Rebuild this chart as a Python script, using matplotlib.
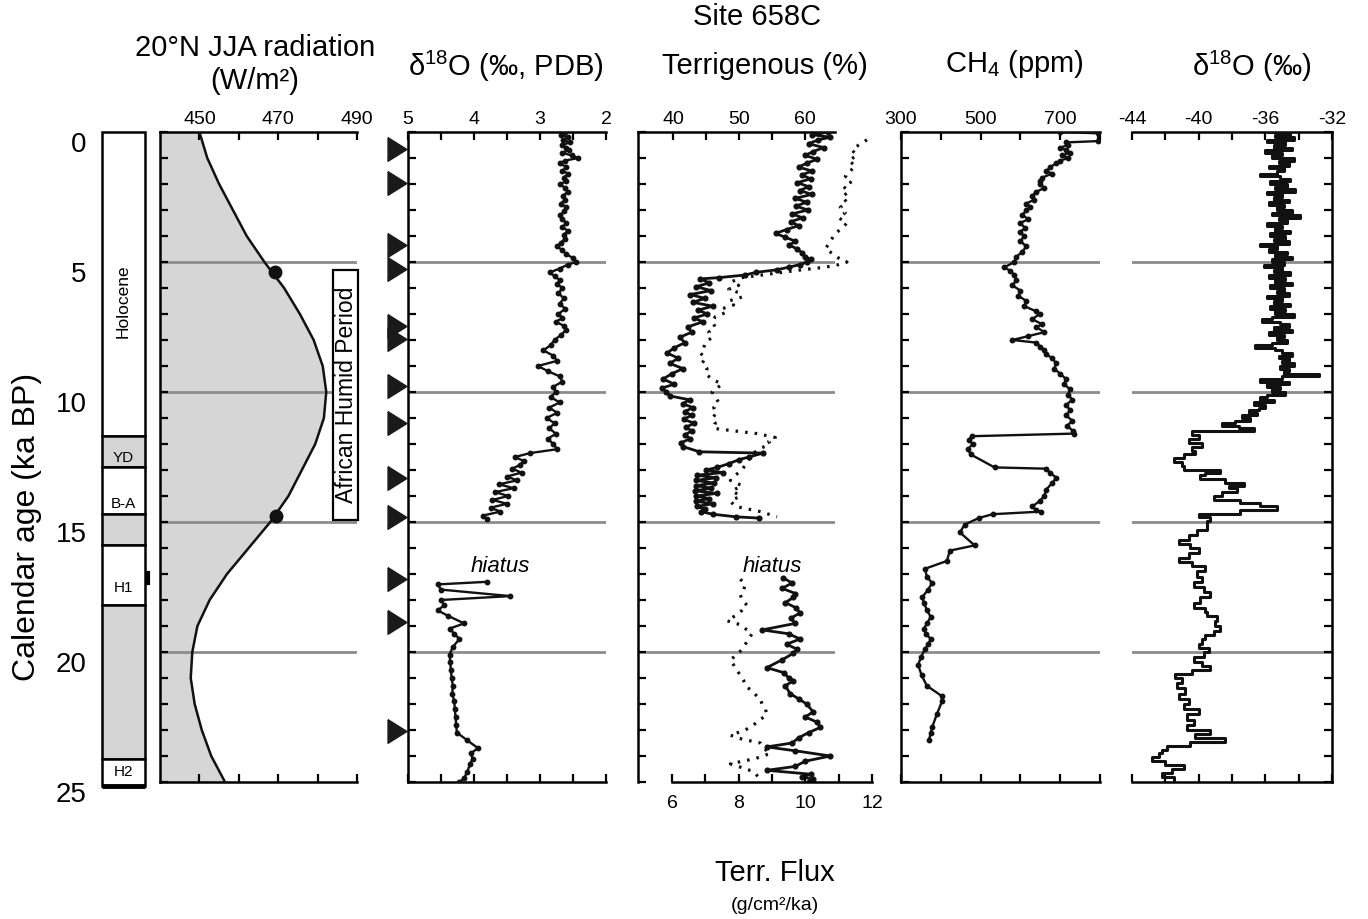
import numpy as np
import matplotlib
matplotlib.use("Agg")
import matplotlib.pyplot as plt
from matplotlib.patches import Rectangle

plt.rcParams['font.family'] = ['Liberation Sans', 'DejaVu Sans']
plt.rcParams['mathtext.default'] = 'regular'
plt.rcParams['axes.unicode_minus'] = False

# ---------------- data (age in ka BP, value) ----------------
age_lines = [5, 10, 15, 20]

# stratigraphic column
strat_top = [0.0, 11.7, 12.9, 14.7, 15.9, 18.2, 24.1]
strat_bot = [11.7, 12.9, 14.7, 15.9, 18.2, 24.1, 25.15]
strat_fill = ['white', '#d4d4d4', 'white', '#d4d4d4', 'white', '#d4d4d4', 'white']
strat_names = ['Holocene', 'YD', 'B-A', 'H1', 'H2']
strat_name_age = [6.5, 12.55, 14.3, 17.55, 24.6]

# 20N JJA insolation
rad_age = [0, 1, 2, 3, 4, 5, 6, 7, 8, 9, 10, 11, 12, 13, 14, 15, 16, 17, 18, 19,
           20, 21, 22, 23, 24, 25]
rad_val = [450, 452, 455, 458.5, 462, 466.5, 471.5, 475.5, 479, 481.3, 482.2, 481.6,
           479.4, 476, 472.6, 468, 462.5, 457, 452.6, 449.5, 448.2, 447.8, 448.8,
           450.6, 453, 456.5]
rad_dot_age = [5.4, 14.75]
rad_dot_val = [469.3, 469.5]

# AMS 14C dates
tri_ages = [0.65, 1.95, 4.35, 5.25, 7.45, 7.95, 9.75, 11.2, 13.3, 14.8, 17.2, 18.85, 23.05]

# planktonic d18O, above and below the hiatus
plank_upper = [
    (0.0, 2.62), (0.1, 2.68), (0.2, 2.58), (0.3, 2.65), (0.4, 2.55), (0.5, 2.66),
    (0.6, 2.60), (0.7, 2.56), (0.8, 2.67), (0.9, 2.52), (1.0, 2.42), (1.1, 2.62),
    (1.2, 2.70), (1.35, 2.60), (1.5, 2.66), (1.6, 2.57), (1.75, 2.64), (1.9, 2.60),
    (2.0, 2.70), (2.15, 2.62), (2.3, 2.58), (2.45, 2.65), (2.6, 2.62), (2.75, 2.68),
    (2.9, 2.60), (3.05, 2.63), (3.2, 2.70), (3.35, 2.66), (3.5, 2.60), (3.65, 2.66),
    (3.8, 2.58), (3.95, 2.64), (4.1, 2.62), (4.25, 2.68), (4.4, 2.74), (4.55, 2.66),
    (4.7, 2.60), (4.85, 2.50), (5.0, 2.45), (5.1, 2.58), (5.25, 2.70), (5.4, 2.85),
    (5.55, 2.78), (5.7, 2.70), (5.85, 2.74), (6.0, 2.66), (6.2, 2.72), (6.4, 2.64),
    (6.6, 2.70), (6.8, 2.62), (7.0, 2.72), (7.15, 2.66), (7.3, 2.76), (7.45, 2.64),
    (7.6, 2.60), (7.8, 2.68), (8.0, 2.78), (8.2, 2.84), (8.4, 2.95), (8.6, 2.80),
    (8.8, 2.74), (9.0, 3.03), (9.2, 2.88), (9.4, 2.70), (9.6, 2.66), (9.8, 2.80),
    (10.0, 2.76), (10.2, 2.84), (10.4, 2.70), (10.6, 2.86), (10.8, 2.74), (11.0, 2.90),
    (11.2, 2.78), (11.4, 2.86), (11.6, 2.76), (11.8, 2.88), (12.0, 2.80), (12.2, 2.74),
    (12.35, 3.15), (12.5, 3.38), (12.65, 3.25), (12.8, 3.30), (12.95, 3.42), (13.1, 3.28),
    (13.25, 3.50), (13.4, 3.35), (13.55, 3.62), (13.7, 3.40), (13.85, 3.68), (14.0, 3.48),
    (14.15, 3.72), (14.3, 3.50), (14.45, 3.75), (14.6, 3.60), (14.75, 3.86), (14.9, 3.80)]
plank_lower = [
    (17.3, 3.80), (17.4, 4.55), (17.6, 4.50), (17.85, 3.45), (18.0, 4.50), (18.2, 4.45),
    (18.4, 4.55), (18.6, 4.40), (18.9, 4.15), (19.1, 4.37), (19.3, 4.30), (19.5, 4.22),
    (19.8, 4.32), (20.1, 4.37), (20.4, 4.36), (20.7, 4.35), (21.0, 4.34), (21.3, 4.32),
    (21.6, 4.33), (21.9, 4.30), (22.2, 4.29), (22.5, 4.28), (22.8, 4.27), (23.1, 4.26),
    (23.4, 4.10), (23.7, 3.94), (23.9, 4.05), (24.1, 4.02), (24.3, 4.06), (24.6, 4.10),
    (24.85, 4.15), (25.0, 4.22)]

# terrigenous percentage
terr_upper = [
    (0.0, 63.5), (0.1, 61.0), (0.2, 63.8), (0.3, 62.0), (0.45, 60.5), (0.6, 62.8),
    (0.75, 61.2), (0.9, 60.0), (1.05, 61.8), (1.2, 60.2), (1.35, 59.0), (1.5, 61.0),
    (1.65, 59.5), (1.8, 60.8), (1.95, 58.8), (2.1, 60.5), (2.25, 59.2), (2.4, 61.0),
    (2.55, 58.5), (2.7, 60.2), (2.85, 58.6), (3.0, 60.4), (3.15, 58.0), (3.3, 59.6),
    (3.45, 57.8), (3.6, 59.0), (3.75, 57.2), (3.9, 55.5), (4.05, 57.0), (4.2, 58.5),
    (4.35, 57.6), (4.5, 58.8), (4.65, 59.5), (4.8, 60.0), (4.9, 60.8), (5.0, 60.3),
    (5.1, 59.2), (5.2, 57.5), (5.3, 55.7), (5.4, 52.5), (5.5, 50.9), (5.6, 47.0),
    (5.65, 44.1), (5.8, 45.5), (5.95, 43.5), (6.1, 45.8), (6.25, 42.6), (6.4, 44.8),
    (6.55, 43.0), (6.7, 46.0), (6.85, 43.8), (7.0, 45.2), (7.15, 43.2), (7.3, 44.5),
    (7.5, 42.2), (7.7, 42.8), (7.9, 41.0), (8.1, 41.8), (8.3, 40.2), (8.5, 39.1),
    (8.7, 40.8), (8.9, 39.5), (9.1, 41.5), (9.3, 39.8), (9.5, 38.5), (9.7, 40.2),
    (9.85, 38.3), (10.0, 39.0), (10.15, 39.5), (10.3, 42.5), (10.45, 41.5), (10.6, 43.0),
    (10.75, 41.8), (10.9, 42.8), (11.05, 41.6), (11.2, 43.2), (11.35, 42.0), (11.5, 42.8),
    (11.65, 41.8), (11.8, 42.6), (11.95, 41.2), (12.1, 41.5), (12.3, 44.0), (12.35, 53.6),
    (12.5, 51.5), (12.6, 50.0), (12.75, 48.5), (12.9, 46.7), (13.0, 45.0), (13.1, 47.5),
    (13.2, 43.6), (13.3, 46.5), (13.4, 43.4), (13.5, 46.2), (13.6, 43.5), (13.7, 45.8),
    (13.8, 43.3), (13.9, 46.6), (14.0, 43.5), (14.1, 45.5), (14.2, 43.4), (14.3, 46.0),
    (14.4, 43.6), (14.5, 44.8), (14.6, 44.2), (14.7, 46.0), (14.8, 49.5), (14.85, 53.0)]
terr_lower = [
    (17.15, 56.7), (17.35, 58.0), (17.55, 56.5), (17.75, 58.5), (17.9, 58.2), (18.1, 57.0),
    (18.3, 58.6), (18.5, 59.2), (18.7, 57.8), (18.9, 58.5), (19.15, 53.5), (19.3, 57.5),
    (19.5, 59.2), (19.7, 57.2), (19.9, 58.8), (20.05, 58.2), (20.3, 56.5), (20.6, 54.2),
    (20.8, 56.8), (21.0, 57.5), (21.1, 58.2), (21.3, 57.0), (21.6, 57.7), (21.8, 59.0),
    (22.0, 60.2), (22.3, 61.2), (22.5, 60.0), (22.7, 61.8), (22.9, 62.3), (23.1, 60.5),
    (23.3, 59.0), (23.5, 58.0), (23.65, 54.2), (23.8, 58.5), (24.0, 63.8), (24.2, 60.0),
    (24.4, 58.5), (24.55, 54.2), (24.7, 60.8), (24.8, 59.5), (24.9, 61.2), (25.0, 60.5)]

# terrigenous flux (g/cm2/ka)
flux_upper = [
    (0.3, 11.85), (0.5, 11.6), (0.7, 11.4), (0.9, 11.55), (1.1, 11.3), (1.3, 11.5),
    (1.5, 11.35), (1.7, 11.2), (1.9, 11.4), (2.1, 11.15), (2.3, 11.3), (2.5, 11.1),
    (2.7, 11.25), (2.9, 11.05), (3.1, 11.2), (3.3, 11.0), (3.5, 11.25), (3.7, 11.1),
    (3.9, 10.9), (4.1, 10.8), (4.3, 10.7), (4.5, 10.6), (4.7, 10.85), (4.85, 11.0),
    (5.0, 11.25), (5.1, 11.0), (5.2, 10.6), (5.3, 9.9), (5.4, 9.3), (5.5, 8.7),
    (5.6, 8.1), (5.75, 7.8), (5.9, 8.0), (6.05, 7.7), (6.2, 8.05), (6.35, 8.1),
    (6.5, 7.7), (6.65, 7.85), (6.8, 7.5), (6.95, 7.6), (7.1, 7.3), (7.3, 7.2),
    (7.5, 7.3), (7.7, 7.1), (7.9, 7.2), (8.1, 7.0), (8.3, 6.95), (8.5, 6.85),
    (8.7, 7.0), (8.9, 6.9), (9.1, 7.05), (9.3, 7.0), (9.5, 7.2), (9.7, 7.5),
    (9.85, 7.35), (10.0, 7.2), (10.2, 7.3), (10.4, 7.4), (10.6, 7.25), (10.8, 7.35),
    (11.0, 7.2), (11.2, 7.3), (11.4, 7.25), (11.5, 7.9), (11.6, 8.55), (11.75, 9.1),
    (11.9, 8.9), (12.0, 8.95), (12.2, 8.6), (12.4, 8.4), (12.6, 8.3), (12.8, 8.2),
    (13.0, 8.1), (13.2, 7.9), (13.4, 7.75), (13.6, 8.1), (13.8, 7.8), (14.0, 8.05),
    (14.2, 7.75), (14.4, 7.9), (14.6, 8.65), (14.8, 9.15)]
flux_lower = [
    (17.2, 8.05), (17.4, 8.2), (17.6, 8.15), (17.8, 8.05), (18.0, 8.1), (18.2, 8.25),
    (18.4, 8.1), (18.6, 7.9), (18.8, 7.65), (18.95, 8.05), (19.1, 8.2), (19.3, 8.4),
    (19.5, 8.3), (19.7, 8.2), (19.9, 8.1), (20.1, 7.95), (20.3, 7.75), (20.5, 7.85),
    (20.7, 7.95), (20.9, 8.05), (21.1, 8.15), (21.3, 8.2), (21.5, 8.4), (21.7, 8.55),
    (21.8, 8.65), (22.0, 8.7), (22.2, 8.8), (22.4, 8.85), (22.6, 8.65), (22.8, 8.45),
    (23.0, 8.2), (23.2, 7.75), (23.35, 8.1), (23.5, 8.65), (23.7, 8.75), (23.9, 8.95),
    (24.1, 8.5), (24.3, 7.75), (24.45, 8.1), (24.6, 8.45), (24.75, 8.55), (24.9, 8.65)]

# ice core CH4 (ppm)
ch4 = [
    (0.0, 700), (0.05, 795), (0.35, 795), (0.4, 715), (0.5, 720), (0.6, 700), (0.7, 715),
    (0.8, 725), (0.9, 705), (1.0, 720), (1.1, 700), (1.2, 690), (1.35, 675), (1.5, 665),
    (1.6, 680), (1.75, 655), (1.9, 650), (2.0, 648), (2.15, 660), (2.3, 640), (2.45, 630),
    (2.6, 635), (2.75, 615), (2.9, 625), (3.0, 615), (3.2, 605), (3.35, 620), (3.5, 600),
    (3.7, 612), (3.85, 598), (4.0, 610), (4.2, 600), (4.4, 615), (4.6, 605), (4.8, 590),
    (5.0, 585), (5.2, 560), (5.35, 575), (5.5, 585), (5.7, 590), (5.9, 580), (6.1, 600),
    (6.3, 595), (6.5, 615), (6.7, 610), (6.9, 640), (7.0, 648), (7.2, 630), (7.4, 655),
    (7.5, 640), (7.7, 660), (7.85, 620), (8.0, 580), (8.1, 640), (8.25, 650), (8.4, 660),
    (8.55, 665), (8.7, 680), (8.9, 690), (9.1, 685), (9.3, 700), (9.5, 715), (9.7, 710),
    (9.9, 725), (10.1, 720), (10.3, 730), (10.5, 715), (10.7, 725), (10.9, 715),
    (11.1, 730), (11.3, 718), (11.5, 732), (11.6, 735), (11.7, 478), (11.85, 470),
    (12.0, 480), (12.2, 468), (12.4, 475), (12.9, 535), (12.95, 665), (13.1, 675),
    (13.3, 690), (13.5, 680), (13.75, 665), (14.0, 660), (14.2, 648), (14.4, 630),
    (14.55, 640), (14.6, 652), (14.7, 530), (14.85, 495), (15.1, 460), (15.4, 448),
    (15.9, 485), (16.1, 423), (16.5, 415), (16.8, 360), (17.1, 365), (17.35, 378),
    (17.6, 368), (17.9, 353), (18.1, 358), (18.4, 365), (18.65, 375), (18.9, 365),
    (19.1, 358), (19.3, 362), (19.5, 375), (19.7, 368), (19.9, 360), (20.2, 350),
    (20.5, 343), (20.9, 352), (21.3, 365), (21.7, 403), (21.9, 403), (22.4, 390),
    (22.9, 378), (23.1, 375), (23.4, 370)]

# ice core d18O (permil), drawn as steps
ice = [
    (0.0, -35.8), (0.1, -34.5), (0.2, -35.4), (0.3, -34.3), (0.4, -35.9), (0.5, -34.8),
    (0.6, -35.5), (0.7, -34.4), (0.8, -36.0), (0.9, -35.0), (1.0, -35.6), (1.1, -34.3),
    (1.2, -35.2), (1.3, -34.6), (1.4, -35.8), (1.5, -34.9), (1.6, -35.3), (1.7, -36.3),
    (1.8, -35.1), (1.9, -34.5), (2.0, -35.7), (2.1, -34.7), (2.2, -35.4), (2.3, -34.2),
    (2.4, -35.9), (2.5, -35.0), (2.6, -35.5), (2.7, -34.6), (2.8, -35.8), (2.9, -34.9),
    (3.0, -35.3), (3.1, -34.4), (3.2, -35.6), (3.3, -33.9), (3.4, -35.2), (3.5, -34.7),
    (3.6, -35.9), (3.7, -35.0), (3.8, -35.4), (3.9, -34.5), (4.0, -35.7), (4.1, -34.8),
    (4.2, -35.5), (4.3, -34.6), (4.4, -36.3), (4.5, -35.3), (4.6, -35.8), (4.7, -34.7),
    (4.8, -35.4), (4.9, -34.4), (5.0, -35.6), (5.1, -34.9), (5.2, -36.1), (5.3, -35.0),
    (5.4, -35.5), (5.5, -34.5), (5.6, -35.8), (5.7, -34.8), (5.8, -35.4), (5.9, -34.4),
    (6.0, -35.7), (6.1, -34.9), (6.2, -35.3), (6.3, -34.6), (6.4, -35.9), (6.5, -35.0),
    (6.6, -35.5), (6.7, -34.5), (6.8, -35.7), (6.9, -34.8), (7.0, -35.4), (7.1, -34.3),
    (7.2, -35.6), (7.3, -36.2), (7.4, -35.1), (7.5, -34.6), (7.6, -35.5), (7.7, -34.4),
    (7.8, -35.8), (7.9, -34.9), (8.0, -35.3), (8.1, -34.7), (8.2, -35.6), (8.3, -36.6),
    (8.4, -35.4), (8.5, -35.0), (8.6, -34.4), (8.7, -35.2), (8.8, -34.6), (8.9, -35.0),
    (9.0, -34.3), (9.1, -35.1), (9.2, -34.6), (9.3, -34.9), (9.4, -32.8), (9.5, -35.0),
    (9.6, -36.3), (9.7, -34.6), (9.8, -35.9), (9.9, -35.1), (10.0, -35.6), (10.1, -34.8),
    (10.2, -35.9), (10.3, -36.3), (10.4, -35.5), (10.5, -36.7), (10.6, -36.0),
    (10.7, -36.4), (10.8, -37.0), (10.9, -36.5), (11.0, -37.4), (11.1, -36.9),
    (11.2, -37.8), (11.3, -38.6), (11.4, -37.6), (11.5, -36.7),
    (11.65, -40.4), (11.8, -40.0), (11.95, -40.6),
    (12.1, -39.8), (12.25, -40.4), (12.4, -40.2), (12.55, -40.9), (12.7, -41.5),
    (12.85, -41.0), (13.0, -40.9), (13.1, -38.7), (13.2, -39.6), (13.35, -39.9),
    (13.5, -38.4), (13.6, -37.3), (13.7, -38.2), (13.85, -37.7), (14.0, -38.6),
    (14.15, -39.1), (14.25, -37.5), (14.4, -36.3), (14.55, -35.3), (14.7, -37.5),
    (14.8, -40.0), (14.95, -39.3), (15.1, -39.5), (15.3, -39.5), (15.5, -40.1),
    (15.7, -40.6), (15.85, -41.2), (16.0, -40.5), (16.2, -40.0), (16.4, -40.6),
    (16.55, -41.2), (16.7, -40.4), (16.9, -39.6), (17.1, -40.1), (17.3, -39.8),
    (17.5, -40.3), (17.7, -39.7), (17.9, -39.3), (18.1, -39.9), (18.3, -40.3),
    (18.45, -39.6), (18.6, -39.5), (18.8, -38.9), (19.0, -39.0), (19.2, -38.7),
    (19.35, -39.1), (19.5, -39.6), (19.7, -39.8), (19.85, -40.0), (20.0, -39.4),
    (20.2, -39.7), (20.4, -40.3), (20.55, -39.8), (20.7, -39.3), (20.85, -40.4),
    (21.0, -41.4), (21.2, -41.0), (21.4, -41.3), (21.6, -40.8), (21.8, -41.2),
    (22.0, -40.6), (22.2, -40.9), (22.4, -40.0), (22.6, -40.7), (22.8, -40.3),
    (23.0, -40.7), (23.15, -39.3), (23.3, -40.2), (23.45, -38.4), (23.6, -40.5),
    (23.75, -41.9), (23.9, -42.2), (24.05, -42.4), (24.2, -42.8), (24.35, -42.0),
    (24.5, -40.9), (24.65, -41.6), (24.8, -42.2), (24.95, -41.5)]

# axis ticks
rad_ticks, rad_labels = [450, 460, 470, 480, 490], ['450', '', '470', '', '490']
plank_ticks = [5, 4.5, 4, 3.5, 3, 2.5, 2]
plank_labels = ['5', '', '4', '', '3', '', '2']
terr_ticks, terr_labels = [40, 45, 50, 55, 60], ['40', '', '50', '', '60']
flux_ticks = [6, 7, 8, 9, 10, 11, 12]
flux_labels = ['6', '', '8', '', '10', '', '12']
ch4_ticks = [300, 400, 500, 600, 700, 800]
ch4_labels = ['300', '', '500', '', '700', '']
ice_ticks = [-44, -42, -40, -38, -36, -34, -32]
ice_labels = ['-44', '', '-40', '', '-36', '', '-32']
age_ticks = [0, 5, 10, 15, 20, 25]

# ---------------- figure ----------------
W, H = 1368, 919
TOP, BOT = 132, 782
fig = plt.figure(figsize=(W / 100, H / 100), dpi=100)


def fx(px):
    return px / W


def fy(py):
    return 1 - py / H


def add_panel(x0, x1, y0=TOP, y1=BOT):
    return fig.add_axes([fx(x0), fy(y1), (x1 - x0) / W, (y1 - y0) / H])


def style_panel(ax, spines, yside='left'):
    ax.set_ylim(25, 0)
    ax.patch.set_alpha(0)
    for name, sp in ax.spines.items():
        sp.set_visible(name in spines)
        sp.set_linewidth(1.8)
    ax.set_yticks(np.arange(0, 26, 1))
    ax.tick_params(axis='y', direction='in', length=6, width=1.6,
                   left=(yside == 'left'), right=(yside == 'right'),
                   labelleft=False, labelright=False)
    ax.tick_params(axis='x', direction='in', length=6, width=1.6, top=True,
                   bottom=('bottom' in spines), labeltop=True, labelbottom=False,
                   labelsize=14, pad=3)
    for a in age_lines:
        ax.axhline(a, color='#8c8c8c', lw=2, zorder=1)


def split(pairs):
    arr = np.array(pairs)
    return arr[:, 0], arr[:, 1]


line_kw = dict(color='#111111', lw=1.7, marker='o', ms=3.2, zorder=3)

# stratigraphic column
ax_s = add_panel(102, 145, TOP, BOT + 8)
ax_s.set_ylim(25 + 8 / 26, 0)
ax_s.set_xlim(0, 1)
for sp in ax_s.spines.values():
    sp.set_visible(False)
heights = [b - t for t, b in zip(strat_top, strat_bot)]
ax_s.bar(0.5, heights, bottom=strat_top, width=1.0, color=strat_fill,
         edgecolor='black', linewidth=1.8, clip_on=False)
ax_s.plot([0, 1], [strat_bot[-1], strat_bot[-1]], color='black', lw=3.5,
          solid_capstyle='butt', clip_on=False)
ax_s.plot([1.07, 1.07], [16.95, 17.35], color='black', lw=3, clip_on=False)
ax_s.text(0.5, strat_name_age[0], strat_names[0], rotation=90, ha='center',
          va='center', fontsize=12.5)
for name, a in zip(strat_names[1:], strat_name_age[1:]):
    ax_s.text(0.5, a, name, ha='center', va='center', fontsize=11)
ax_s.set_xticks([])
ax_s.set_yticks(age_ticks)
ax_s.set_yticklabels([str(t) for t in age_ticks], fontsize=20, va='top')
ax_s.tick_params(axis='y', length=0, pad=11)

# insolation
ax_r = add_panel(160, 357)
style_panel(ax_r, ['left', 'top', 'bottom'])
ax_r.set_xlim(440, 490)
ax_r.set_xticks(rad_ticks, labels=rad_labels)
ax_r.fill_betweenx(rad_age, 440, rad_val, color='#d6d6d6', lw=0, zorder=0.5)
ax_r.plot(rad_val, rad_age, color='#111111', lw=1.8, zorder=3)
ax_r.plot(rad_dot_val, rad_dot_age, 'o', color='#111111', ms=9, zorder=4)

# African Humid Period label
fig.patches.append(Rectangle((fx(333), fy(520)), 25 / W, 250 / H, transform=fig.transFigure,
                             fc='white', ec='black', lw=1.6))
fig.text(fx(346), fy(395), 'African Humid Period', rotation=90, ha='center',
         va='center', fontsize=16.5)

# planktonic d18O
ax_p = add_panel(408, 606)
style_panel(ax_p, ['left', 'top', 'bottom'])
ax_p.set_xlim(5, 2)
ax_p.set_xticks(plank_ticks, labels=plank_labels)
for seg in (plank_upper, plank_lower):
    a, v = split(seg)
    ax_p.plot(v, a, **line_kw)
tri_marker = [(-0.8, 1), (0.8, 0), (-0.8, -1), (-0.8, 1)]
ax_p.plot([-0.055] * len(tri_ages), tri_ages, linestyle='none', marker=tri_marker,
          ms=17, color='#1a1a1a', transform=ax_p.get_yaxis_transform(), clip_on=False)
ax_p.text(500 / W, fy(567), 'hiatus', transform=fig.transFigure, ha='center',
          va='center', fontsize=16, style='italic')

# terrigenous percentage
ax_t = add_panel(638, 835)
style_panel(ax_t, ['left', 'top'])
ax_t.set_xlim(34.7, 64.5)
ax_t.set_xticks(terr_ticks, labels=terr_labels)
for seg in (terr_upper, terr_lower):
    a, v = split(seg)
    ax_t.plot(v, a, color='#111111', lw=2.0, marker='o', ms=3.4, zorder=3)

# terrigenous flux on its own bottom axis
ax_f = add_panel(638.7, 872)
ax_f.set_ylim(25, 0)
ax_f.set_xlim(5, 12)
ax_f.patch.set_alpha(0)
for name, sp in ax_f.spines.items():
    sp.set_visible(name == 'bottom')
    sp.set_linewidth(1.8)
ax_f.spines['bottom'].set_bounds(6, 12)
ax_f.set_yticks([])
ax_f.set_xticks(flux_ticks, labels=flux_labels)
ax_f.tick_params(axis='x', direction='in', length=6, width=1.6, labelsize=14, pad=9)
for seg in (flux_upper, flux_lower):
    a, v = split(seg)
    ax_f.plot(v, a, color='#111111', lw=2.3, linestyle=(0, (0.8, 2.2)), zorder=3)
ax_f.text(772 / W, fy(567), 'hiatus', transform=fig.transFigure, ha='center',
          va='center', fontsize=16, style='italic')

# CH4
ax_c = add_panel(901, 1100)
style_panel(ax_c, ['left', 'top', 'bottom'])
ax_c.set_xlim(300, 800)
ax_c.set_xticks(ch4_ticks, labels=ch4_labels)
a, v = split(ch4)
ax_c.plot(v, a, **line_kw)

# ice d18O
ax_i = add_panel(1132, 1332)
style_panel(ax_i, ['right', 'top', 'bottom'], yside='right')
ax_i.set_xlim(-44, -32)
ax_i.set_xticks(ice_ticks, labels=ice_labels)
a, v = split(ice)
ax_i.plot(v, a, color='#111111', lw=2.2, drawstyle='steps-post', zorder=3)

# titles and labels
fig.text(fx(255), fy(48), '20°N JJA radiation', ha='center', va='center', fontsize=21)
fig.text(fx(255), fy(81), '(W/m²)', ha='center', va='center', fontsize=21)
fig.text(fx(506), fy(66), 'δ$^{18}$O (‰, PDB)', ha='center', va='center', fontsize=21)
fig.text(fx(757), fy(17), 'Site 658C', ha='center', va='center', fontsize=21)
fig.text(fx(765), fy(66), 'Terrigenous (%)', ha='center', va='center', fontsize=21)
fig.text(fx(1014), fy(64), 'CH$_4$ (ppm)', ha='center', va='center', fontsize=21)
fig.text(fx(1252), fy(66), 'δ$^{18}$O (‰)', ha='center', va='center', fontsize=21)
fig.text(fx(27), fy(527), 'Calendar age (ka BP)', rotation=90, ha='center',
         va='center', fontsize=23)
fig.text(fx(775), fy(873), 'Terr. Flux', ha='center', va='center', fontsize=21)
fig.text(fx(775), fy(906), '(g/cm²/ka)', ha='center', va='center', fontsize=14)

fig.savefig('out.png', dpi=100)
